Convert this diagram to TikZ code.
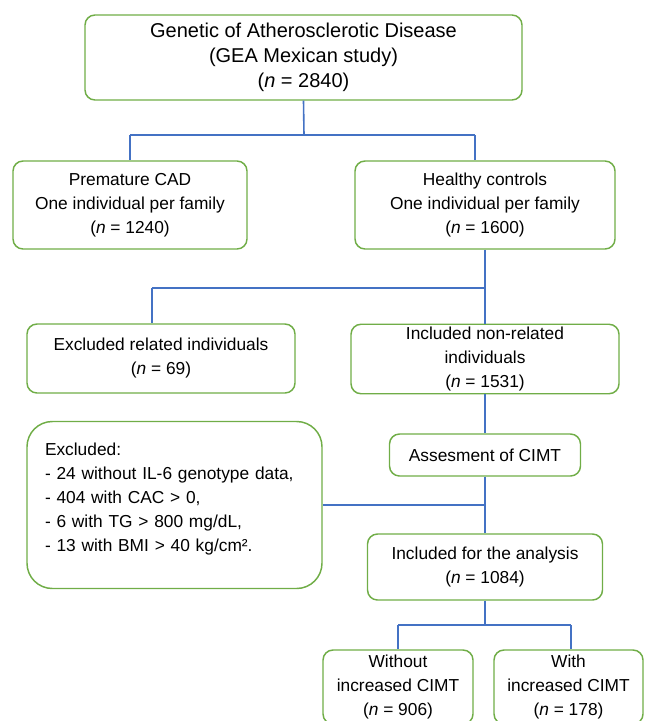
\documentclass[tikz,border=0pt]{standalone}
\usepackage{fontspec}
\setmainfont{Liberation Sans}
\usepackage{xcolor}
\usepackage{tikz}
\definecolor{boxgreen}{HTML}{70AD47}
\definecolor{lineblue}{HTML}{4472C4}

\begin{document}
\begin{tikzpicture}[x=0.75pt,y=-0.75pt,
    box/.style={draw=boxgreen, line width=1.1pt, rounded corners=7.5pt, align=center, inner sep=2pt, font=\fontsize{13}{18}\selectfont},
    link/.style={draw=lineblue, line width=1.2pt}]

    % Rahmen
    \useasboundingbox (0,0) rectangle (644,721);

    % Studie
    \node (gea) at (303.5,57.5) [box, minimum width=327.75pt, minimum height=63.75pt, font=\fontsize{15}{18.75}\selectfont] {Genetic of Atherosclerotic Disease\\(GEA Mexican study)\\(\textit{n} = 2840)};

    % Gruppen
    \node (cad) at (130,205) [box, minimum width=175.5pt, minimum height=66pt] {Premature CAD\\One individual per family\\(\textit{n} = 1240)};
    \node (healthy) at (485,205) [box, minimum width=195pt, minimum height=66pt] {Healthy controls\\One individual per family\\(\textit{n} = 1600)};

    % Verwandte
    \node (exrel) at (161,358.5) [box, minimum width=201pt, minimum height=51.75pt] {Excluded related individuals\\(\textit{n} = 69)};
    \node (incl) at (485,359) [box, minimum width=201pt, minimum height=51pt] {Included non-related\\individuals\\(\textit{n} = 1531)};

    % Ausschluss
    \node (exbig) at (174.5,505) [box, rounded corners=19pt, align=left, text width=194.25pt, inner xsep=13.5pt, minimum height=125.25pt] {Excluded:\\- 24 without IL-6 genotype data,\\- 404 with CAC > 0,\\- 6 with TG > 800 mg/dL,\\- 13 with BMI > 40 kg/cm².\\[-6pt]\mbox{}};
    \node (cimt) at (485,455) [box, minimum width=143.25pt, minimum height=31.5pt] {Assesment of CIMT};
    \node (analysis) at (485,567) [box, minimum width=176.25pt, minimum height=49.5pt] {Included for the analysis\\(\textit{n} = 1084)};

    % CIMT Gruppen
    \node (withoutcimt) at (398,687) [box, minimum width=112.5pt, minimum height=55.5pt] {Without\\increased CIMT\\(\textit{n} = 906)};
    \node (withcimt) at (568.5,687) [box, minimum width=111.75pt, minimum height=55.5pt] {With\\increased CIMT\\(\textit{n} = 178)};

    % Verbindungen
    \coordinate (ga) at (304,135);
    \coordinate (gl) at (130,135);
    \coordinate (gr) at (475,135);
    \draw[link] (gea.south) -- (ga);
    \draw[link] (gl) -- (gr);
    \draw[link] (gl) -- (cad.north);
    \draw[link] (gr) -- (gr |- healthy.north);

    \coordinate (hl) at (152,288);
    \coordinate (hr) at (485,288);
    \draw[link] (healthy.south) -- (incl.north);
    \draw[link] (hl) -- (hr);
    \draw[link] (hl) -- (hl |- exrel.north);

    \draw[link] (incl.south) -- (cimt.north);
    \coordinate (cj) at (485,505);
    \draw[link] (cimt.south) -- (analysis.north);
    \draw[link] (exbig.east) -- (cj);

    \coordinate (ab) at (485,625);
    \coordinate (bl) at (398,625);
    \coordinate (br) at (571,625);
    \draw[link] (analysis.south) -- (ab);
    \draw[link] (bl) -- (br);
    \draw[link] (bl) -- (withoutcimt.north);
    \draw[link] (br) -- (br |- withcimt.north);
\end{tikzpicture}
\end{document}
